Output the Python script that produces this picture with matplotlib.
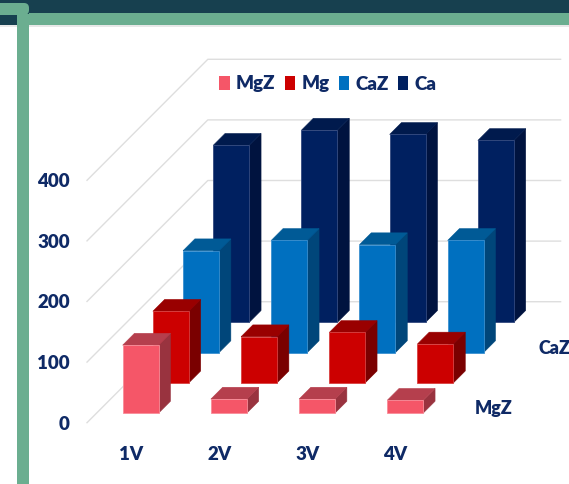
import matplotlib
matplotlib.use("Agg")
import matplotlib.pyplot as plt
from matplotlib.patches import Polygon, Rectangle, FancyBboxPatch
from matplotlib.lines import Line2D

# Data
categories = ["1V", "2V", "3V", "4V"]
series_names = ["MgZ", "Mg", "CaZ", "Ca"]
mgz_values = [112, 23, 23, 21]
mg_values = [118, 76, 83, 64]
caz_values = [168, 185, 178, 185]
ca_values = [292, 317, 310, 300]
y_ticks = [0, 100, 200, 300, 400]
depth_labels = {"MgZ": 0, "CaZ": 2}

series_values = [mgz_values, mg_values, caz_values, ca_values]
face_colors = ["#F55668", "#CC0000", "#0070C0", "#002060"]
side_colors = ["#99333F", "#7A0000", "#00467A", "#00133F"]
top_colors = ["#B53F4D", "#990000", "#005A96", "#001A4D"]
edge_colors = ["#F98C98", "#D84040", "#3A90D0", "#33497F"]

TEXT = "#0F2A66"
GRID = "#DEDEDE"
GREEN = "#6BAE90"
TEAL = "#17404F"
FONT_SIZE = 13.5

plt.rcParams["font.family"] = ["Lato", "Open Sans", "DejaVu Sans"]
plt.rcParams["font.weight"] = "heavy"

W, H = 569, 484
fig = plt.figure(figsize=(W / 100, H / 100), dpi=100)
ax = fig.add_axes([0, 0, 1, 1])
ax.set_xlim(0, W)
ax.set_ylim(H, 0)
ax.axis("off")

# Oblique projection of the 3D chart box
X0, Y0 = 87.0, 422.7
CAT_W = 88.2
SLOT_DX, SLOT_DY = 30.2, 30.25
PX_PER_UNIT = 0.606
BAR_GAP, BAR_W = 0.295, 0.408
BAR_FRONT, BAR_DEPTH = 0.32, 0.39


def project(cat, slot, value=0.0):
    return (X0 + CAT_W * cat + SLOT_DX * slot,
            Y0 - PX_PER_UNIT * value - SLOT_DY * slot)


# Window frame around the chart
ax.add_patch(Rectangle((0, 0), W, 14, fc=TEAL, ec="none", zorder=1))
ax.add_patch(Rectangle((0, 14), 17, 11, fc=TEAL, ec="none", zorder=1))
ax.add_patch(Rectangle((0, 25), W, 2, fc="#E8E8E8", ec="none", zorder=1))
ax.add_patch(Rectangle((29, 13), W - 29, 12, fc=GREEN, ec="none", zorder=2))
ax.add_patch(Rectangle((17, 14), 12, H - 14, fc=GREEN, ec="none", zorder=2))
ax.add_patch(FancyBboxPatch((-6, 3), 35, 12, boxstyle="round,pad=0,rounding_size=5",
                            fc=GREEN, ec="none", zorder=2))

# Side wall and back wall gridlines
n_slots = len(series_names)
n_cats = len(categories)
for tick in y_ticks:
    front = project(0, 0, tick)
    back = project(0, n_slots, tick)
    right = project(n_cats, n_slots, tick)
    ax.add_line(Line2D([front[0], back[0], right[0]], [front[1], back[1], right[1]],
                       color=GRID, lw=1.0, zorder=3))
    ax.text(70, front[1], str(tick), ha="right", va="center_baseline",
            fontsize=FONT_SIZE, color=TEXT, zorder=9)


def draw_bar(cat, slot, value, i):
    x0, x1 = cat + BAR_GAP, cat + BAR_GAP + BAR_W
    s0, s1 = slot + BAR_FRONT, slot + BAR_FRONT + BAR_DEPTH
    side = [project(x1, s0, 0), project(x1, s1, 0), project(x1, s1, value), project(x1, s0, value)]
    top = [project(x0, s0, value), project(x1, s0, value), project(x1, s1, value), project(x0, s1, value)]
    face = [project(x0, s0, 0), project(x1, s0, 0), project(x1, s0, value), project(x0, s0, value)]
    # nearer series get the larger z so the drawing order runs back to front
    z = 8 - slot + cat * 0.01
    ax.add_patch(Polygon(side, closed=True, fc=side_colors[i], ec=side_colors[i], lw=0.4, zorder=z))
    ax.add_patch(Polygon(top, closed=True, fc=top_colors[i], ec=top_colors[i], lw=0.4, zorder=z))
    ax.add_patch(Polygon(face, closed=True, fc=face_colors[i], ec=edge_colors[i], lw=0.6, zorder=z + 0.005))


for i, values in enumerate(series_values):
    for c, v in enumerate(values):
        draw_bar(c, i, v, i)

# Category labels along the front edge
for c, name in enumerate(categories):
    x, _ = project(c + 0.5, 0)
    ax.text(x, 455, name, ha="center", va="center", fontsize=FONT_SIZE, color=TEXT, zorder=9)

# Depth axis labels to the right of the floor
for name, slot in depth_labels.items():
    x, y = project(n_cats, slot + 0.5)
    ax.text(x + 39, y + 1, name, ha="center", va="center", fontsize=FONT_SIZE - 0.5, color=TEXT, zorder=9)

# Legend across the top of the box
handles = [Rectangle((0, 0), 1, 1, fc=c, ec="none") for c in face_colors]
ax.legend(handles, series_names, ncol=4, loc="center", bbox_to_anchor=(328 / W, 1 - 84 / H),
          bbox_transform=ax.transAxes, frameon=False, fontsize=FONT_SIZE, labelcolor=TEXT,
          handlelength=0.55, handleheight=0.75, handletextpad=0.35, columnspacing=0.48,
          borderpad=0, borderaxespad=0)

fig.savefig("out.png", dpi=100, facecolor="white")
